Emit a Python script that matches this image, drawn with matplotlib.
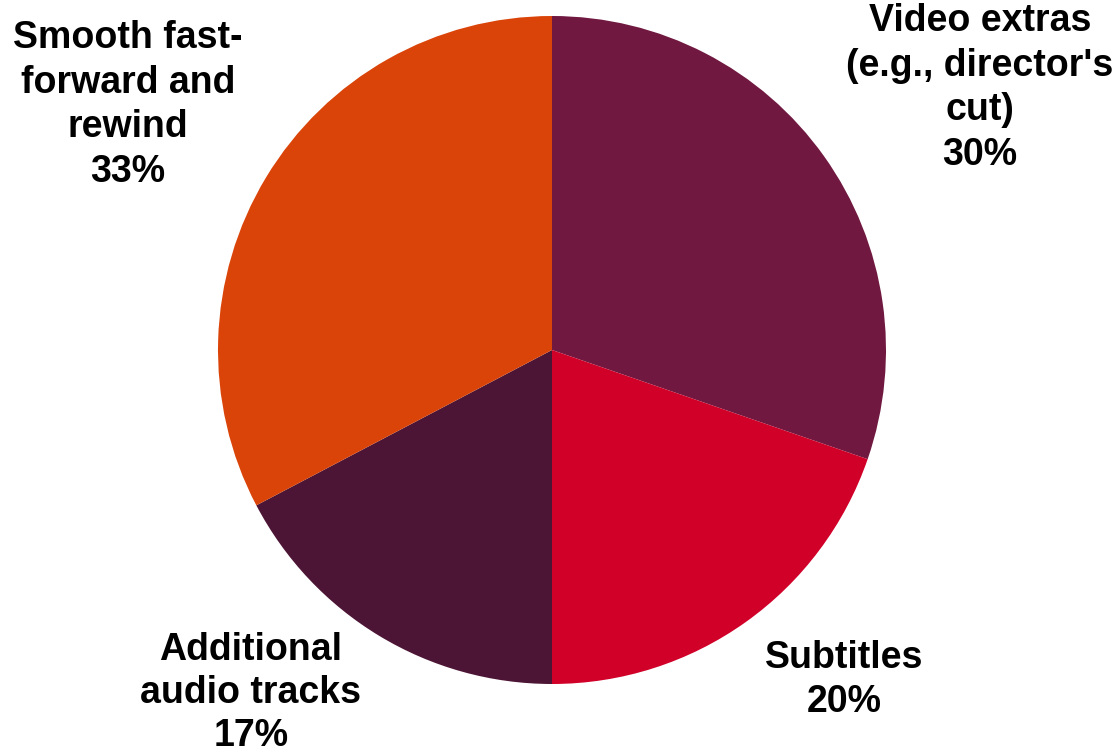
import matplotlib.pyplot as plt

labels = ["Video extras\n(e.g., director's\ncut)", "Subtitles", "Additional\naudio tracks", "Smooth fast-\nforward and\nrewind"]
values = [30.3, 19.7, 17.3, 32.7]
colors = ['#701840', '#D10029', '#4D1535', '#DA4409']
# label centres in pixels of the original picture
label_px = [(980, 88), (844, 680), (251, 693), (128, 105)]

W, H = 1118, 756
cx, cy, r = 552, 350, 334

fig = plt.figure(figsize=(W / 100, H / 100), dpi=100)
ax = fig.add_axes([0, 0, 1, 1])

ax.pie(values, colors=colors, startangle=90, counterclock=False, radius=1,
       center=(0, 0), frame=True, wedgeprops=dict(linewidth=0))
ax.set_xlim(-cx / r, (W - cx) / r)
ax.set_ylim(-(H - cy) / r, cy / r)
ax.set_aspect('auto')
ax.axis('off')

for lab, v, (px, py) in zip(labels, values, label_px):
    ax.text((px - cx) / r, (cy - py) / r, f"{lab}\n{v:.0f}%", ha='center', va='center',
            fontsize=27, fontweight='bold', family='Liberation Sans',
            linespacing=1.25 if lab.startswith('Additional') else 1.3)

fig.savefig('out.png', dpi=100)
